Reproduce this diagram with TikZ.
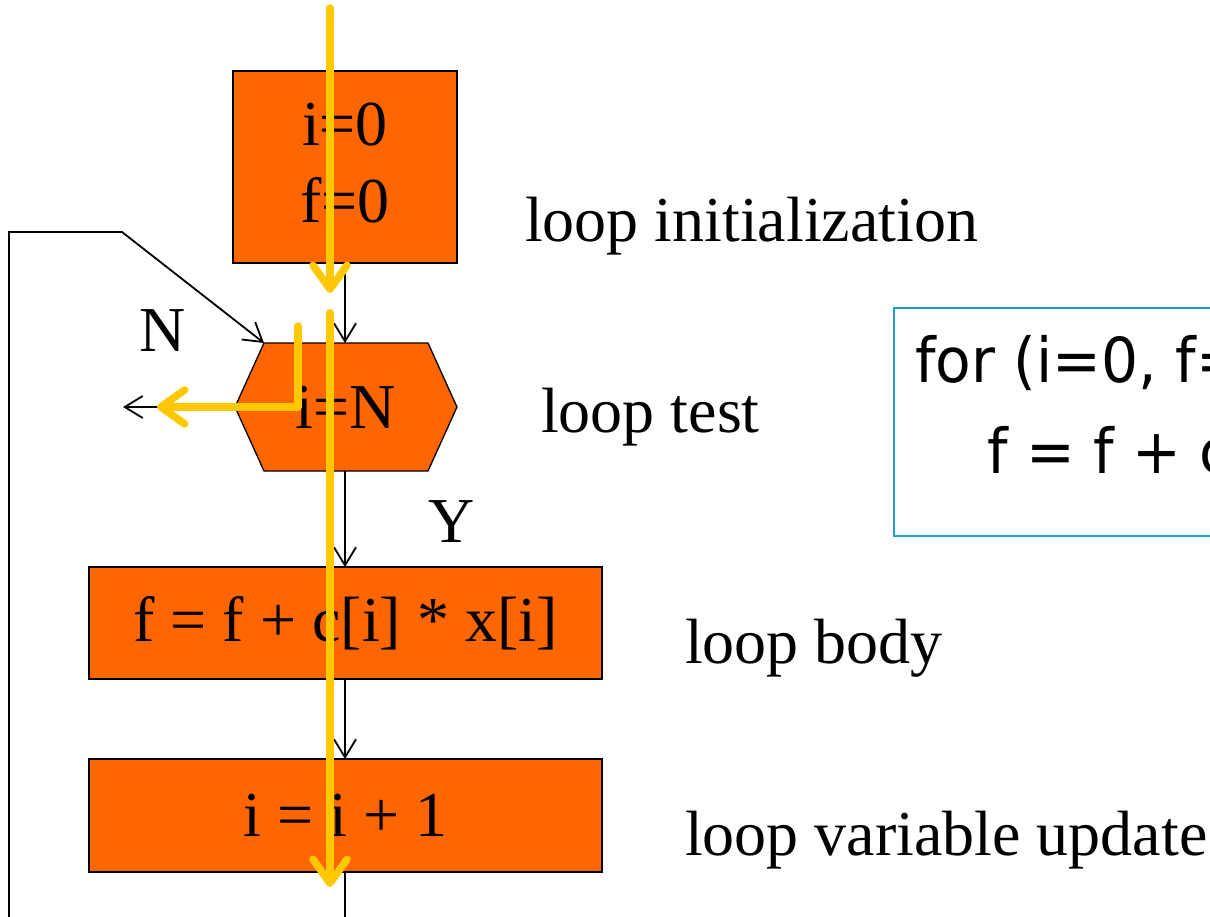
\documentclass[tikz,border=0pt]{standalone}
\usepackage{fontspec}
\setmainfont{Liberation Serif}
\newfontfamily\codefont[FakeStretch=0.94]{DejaVu Sans}
\usetikzlibrary{arrows.meta,calc}
\pgfdeclarelayer{background}
\pgfsetlayers{background,main}
\definecolor{boxorange}{HTML}{FF6600}
\definecolor{traceyellow}{HTML}{FFC800}
\definecolor{codeblue}{HTML}{1E9BD0}

\begin{document}
\begin{tikzpicture}[x=1pt,y=-1pt,
  every node/.style={inner sep=0pt, outer sep=0pt},
  big/.style={font=\fontsize{64}{77}\selectfont},
  stepbox/.style={draw=black, line width=1.3pt, fill=boxorange, big, align=center},
  flow/.style={draw=black, line width=1.8pt, -{Straight Barb[length=18pt,width=22pt]}},
  plainline/.style={draw=black, line width=1.8pt},
  trace/.style={draw=traceyellow, line width=7.5pt, line cap=round, line join=round,
    -{Straight Barb[length=24pt,width=34pt,round]},
    preaction={draw=black, draw opacity=0.18, transform canvas={shift={(1.5,2.5)}}}},
  caption/.style={big, anchor=base west},
  codeline/.style={font=\codefont\fontsize{62}{74}\selectfont, anchor=base west},
]
\clip (0,0) rectangle (1210,917);

% flowchart steps
\node[stepbox, minimum width=224pt, minimum height=192pt, text depth=8pt] (init) at (345,167) {i=0\\f=0};
\node[big, minimum width=222pt, minimum height=128pt] (test) at (346,407) {i=N};
\begin{pgfonlayer}{background}
  \filldraw[fill=boxorange, draw=black, line width=1.3pt]
    (test.west) -- ([xshift=29pt]test.north west) -- ([xshift=-29pt]test.north east)
    -- (test.east) -- ([xshift=-29pt]test.south east) -- ([xshift=29pt]test.south west) -- cycle;
\end{pgfonlayer}
\node[stepbox, minimum width=513pt, minimum height=112pt] (body) at (345.5,623) {f = f + c[i] * x[i]};
\node[stepbox, minimum width=513pt, minimum height=113pt] (update) at (345.5,815.5) {i = i + 1};

% captions
\node[caption] (linit) at (525,242) {loop initialization};
\node[caption] (ltest) at (541,432) {loop test};
\node[caption] (lbody) at (685,663) {loop body};
\node[caption] (lupd) at (685,855) {loop variable update};
\node[big, anchor=base] (nlab) at (163,352) {N};
\node[big, anchor=base] (ylab) at (452,542) {Y};

% source code
\node[draw=codeblue, line width=2.5pt, minimum width=420pt, minimum height=228pt, anchor=north west] (code) at (894,308) {};
\node[codeline] (code1) at (915,382) {for (i=0, f=};
\node[codeline] (code2) at (987,473) {f = f + c};

% control flow
\coordinate (bend) at (122,232);
\coordinate (loopin) at (9,930);
\coordinate (loopout) at (345,930);
\coordinate (exit) at (123,407);
\coordinate (initout) at (345,263);
\draw[flow] (init.south) -- (initout |- test.north);
\draw[flow] (initout |- test.south) -- (initout |- body.north);
\draw[flow] (initout |- body.south) -- (initout |- update.north);
\draw[plainline] (initout |- update.south) -- (loopout);
\draw[flow] (test.west) -- (exit);
\draw[flow] (loopin) |- (bend) -- ([xshift=29pt]test.north west);

% execution trace
\coordinate (t1a) at (330,8);
\coordinate (t1b) at (330,293);
\coordinate (t2a) at (330,313);
\coordinate (t2b) at (330,887);
\coordinate (t3a) at (298,326);
\coordinate (t3b) at (157,407);
\draw[trace] (t1a) -- (t1b);
\draw[trace] (t2a) -- (t2b);
\draw[trace] (t3a) |- (t3b);
\end{tikzpicture}
\end{document}
